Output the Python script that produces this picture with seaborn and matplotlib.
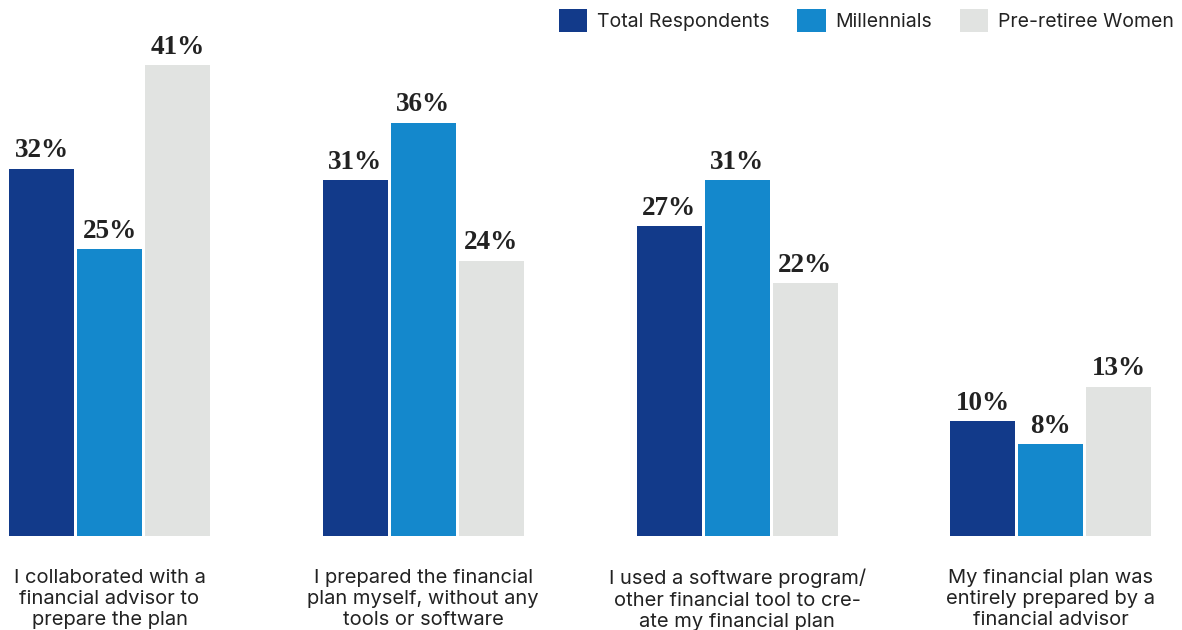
import matplotlib
matplotlib.use("Agg")
import matplotlib.pyplot as plt
import matplotlib.patches as mpatches
import seaborn as sns
import pandas as pd

categories = [
    "I collaborated with a\nfinancial advisor to\nprepare the plan",
    "I prepared the financial\nplan myself, without any\ntools or software",
    "I used a software program/\nother financial tool to cre-\nate my financial plan",
    "My financial plan was\nentirely prepared by a\nfinancial advisor",
]
series = ["Total Respondents", "Millennials", "Pre-retiree Women"]
total_respondents = [32, 31, 27, 10]
millennials = [25, 36, 31, 8]
pre_retiree_women = [41, 24, 22, 13]

colors = ["#123A8A", "#1488CC", "#E1E3E1"]

rows = []
for name, vals in zip(series, [total_respondents, millennials, pre_retiree_women]):
    for cat, v in zip(categories, vals):
        rows.append({"category": cat, "group": name, "value": v})
df = pd.DataFrame(rows)

sns.set_theme(style="white")
W, H = 1182, 630
fig = plt.figure(figsize=(W / 100, H / 100), dpi=100)
ax = fig.add_axes([0, 94 / H, 1, 1 - 94 / H])

sns.barplot(data=df, x="category", y="value", hue="group", order=categories,
            hue_order=series, palette=colors, width=0.65, gap=0.044,
            saturation=1, errorbar=None, legend=False, ax=ax, linewidth=0)

ax.set_xlim(-0.349, 3.418)
ax.set_ylim(0, 46.7)
ax.set_xlabel("")
ax.set_ylabel("")
ax.set_yticks([])
ax.set_xticks([])
for s in ax.spines.values():
    s.set_visible(False)

for container in ax.containers:
    ax.bar_label(container, labels=[f"{int(v)}%" for v in container.datavalues],
                 padding=4, fontsize=19.5, fontweight="bold",
                 family="Liberation Serif", color="#222222")

for i, cat in enumerate(categories):
    ax.annotate(cat, xy=(i, 0), xycoords="data", xytext=(0, -33),
                textcoords="offset pixels", ha="center", va="top",
                fontsize=14.5, family="Inter", color="#222222",
                linespacing=1.22, annotation_clip=False)

handles = [mpatches.Patch(facecolor=c, edgecolor="none", label=s)
           for c, s in zip(colors, series)]
fig.legend(handles=handles, loc="upper right", ncol=3,
           bbox_to_anchor=(1176 / W, 1 - 7 / H), frameon=False,
           prop={"family": "Inter", "size": 14}, handlelength=1.45,
           handleheight=1.45, handletextpad=0.5, columnspacing=1.45,
           borderaxespad=0, borderpad=0.1, labelcolor="#222222")

fig.savefig("out.png", dpi=100, facecolor="white")
